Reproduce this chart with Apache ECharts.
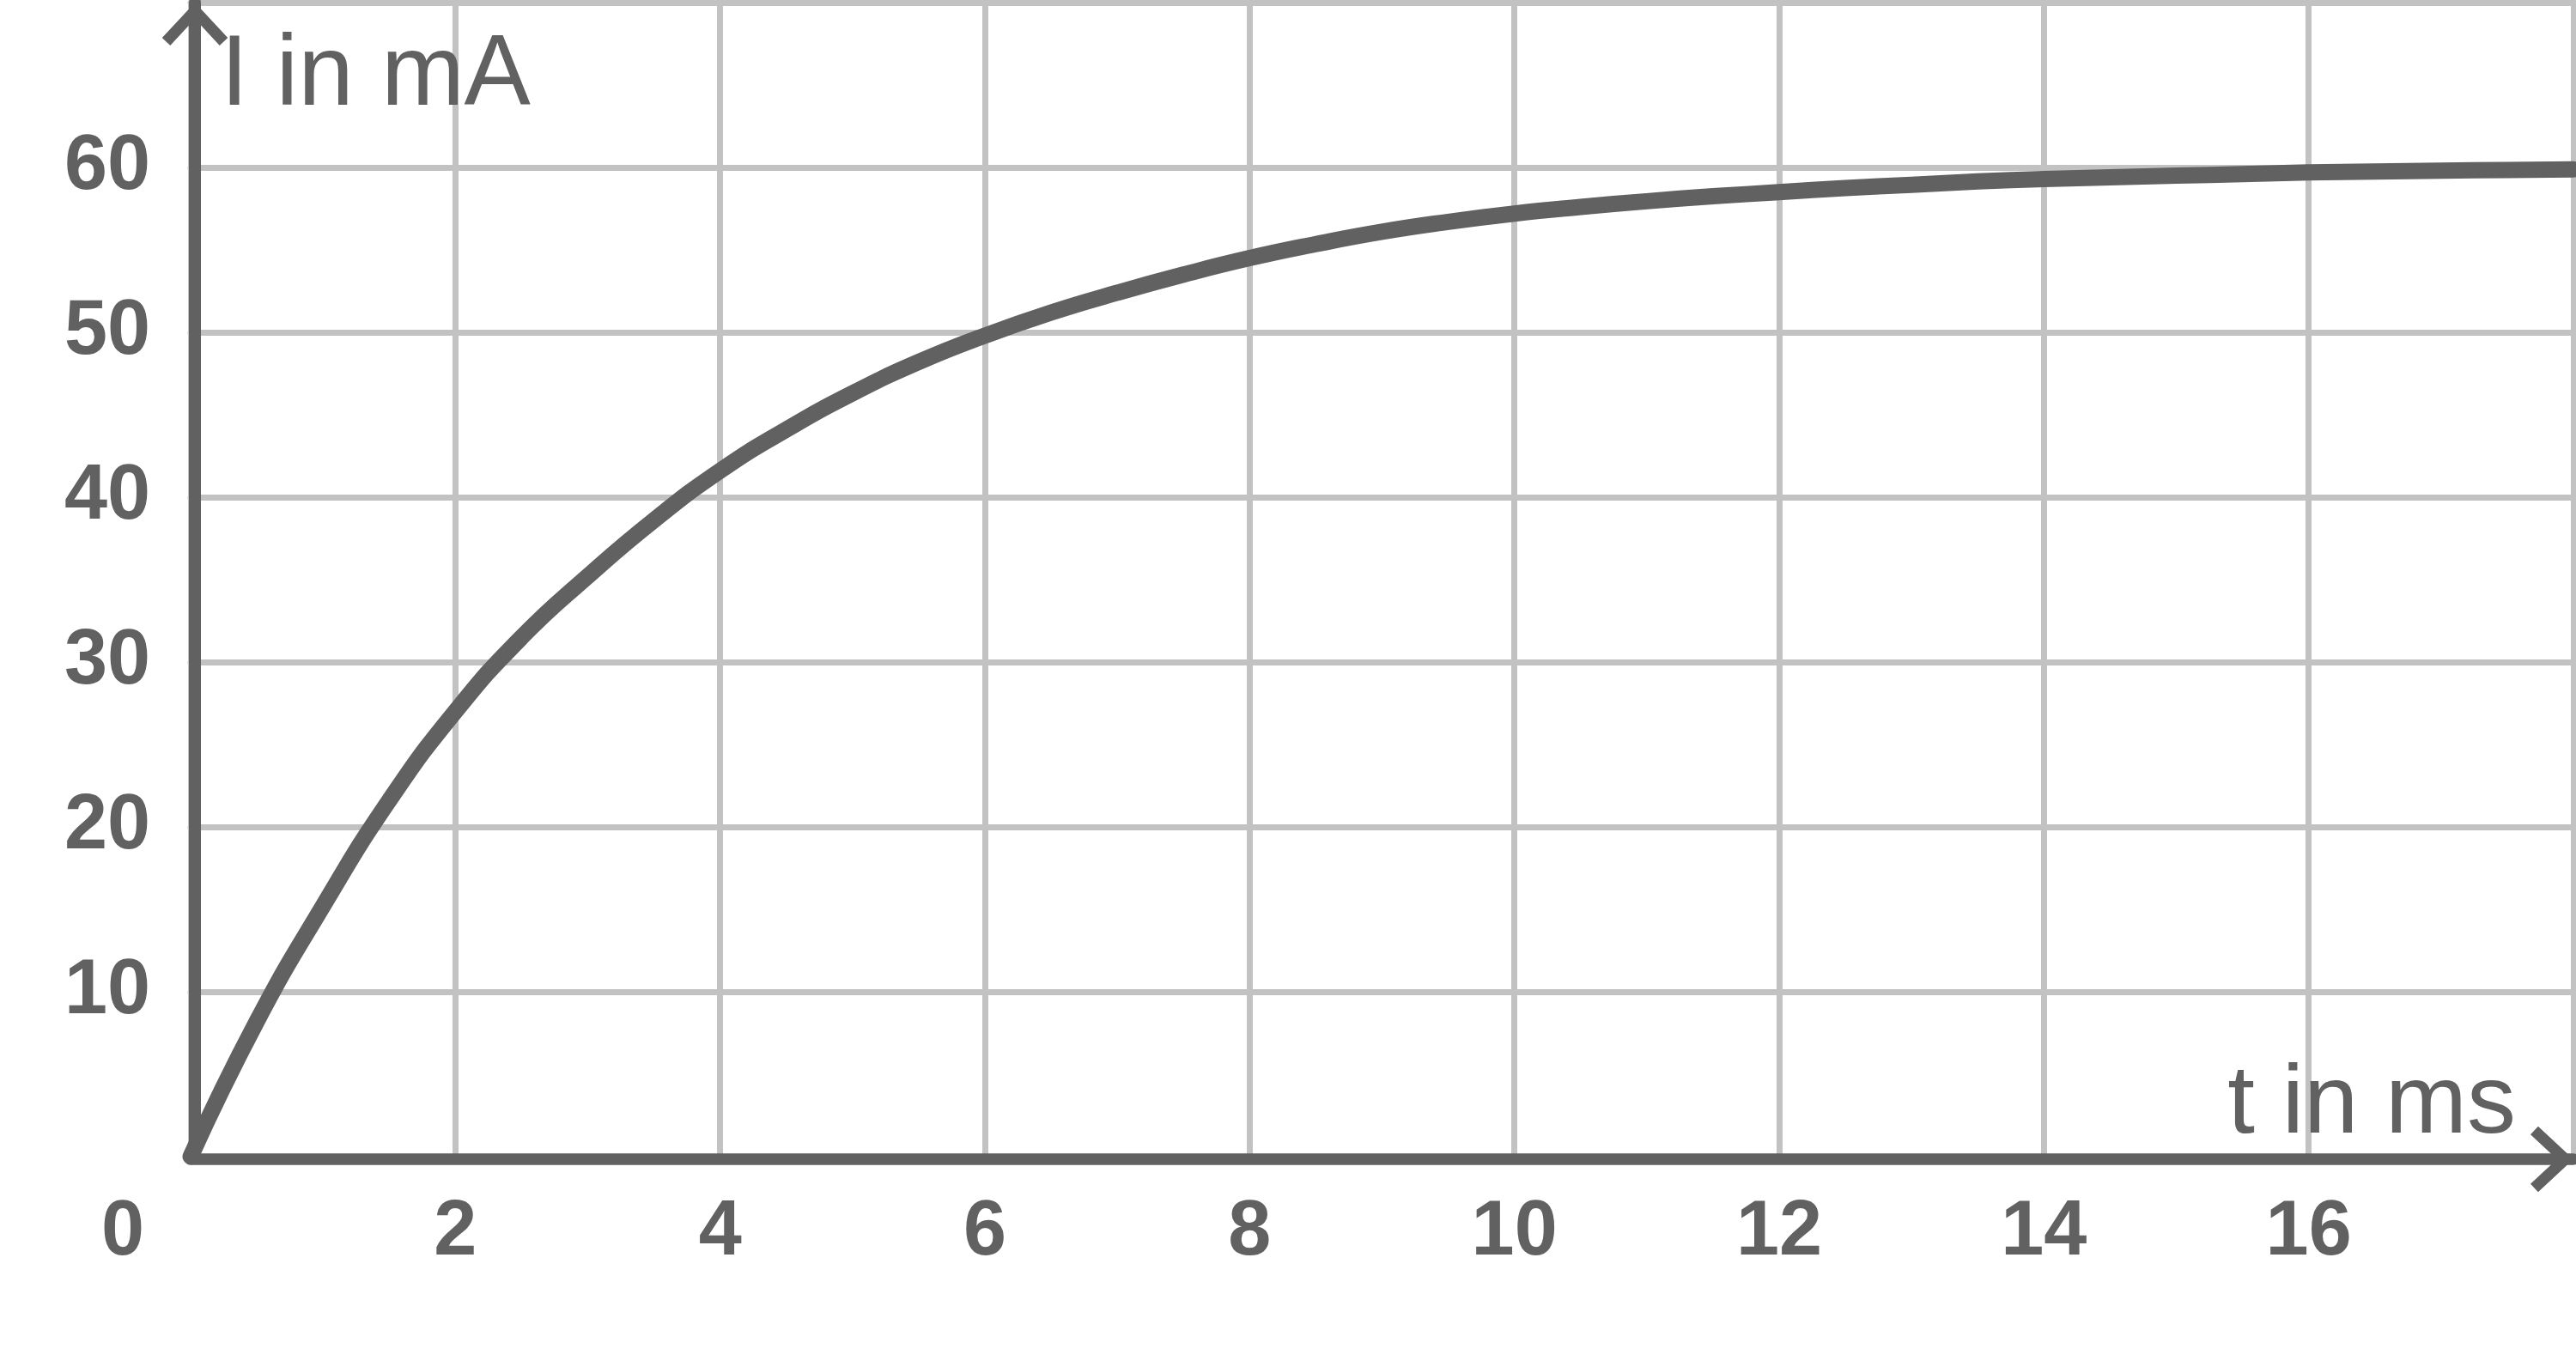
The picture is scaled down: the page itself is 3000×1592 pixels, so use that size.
<!DOCTYPE html>
<html>
<head>
<meta charset="utf-8">
<script src="https://cdn.jsdelivr.net/npm/echarts@6/dist/echarts.min.js"></script>
<style>
html,body{margin:0;padding:0;background:#ffffff;}
#chart{width:3000px;height:1592px;}
</style>
</head>
<body>
<div id="chart"></div>
<script>
// ---- data ----
const timeMs = [0, 0.5, 1, 1.5, 2, 2.5, 3, 3.5, 4, 4.5, 5, 5.5, 6, 6.5, 7, 7.5, 8, 8.5, 9, 9.5, 10, 10.5, 11, 11.5, 12, 12.5, 13, 13.5, 14, 14.5, 15, 15.5, 16, 16.5, 17, 17.5, 18];
const currentMA = [0, 8.2, 15.2, 21.6, 27.0, 31.5, 35.2, 38.6, 41.6, 44.1, 46.3, 48.2, 49.8, 51.2, 52.4, 53.5, 54.5, 55.35, 56.1, 56.7, 57.2, 57.6, 57.95, 58.25, 58.5, 58.75, 58.95, 59.15, 59.3, 59.4, 59.5, 59.6, 59.7, 59.75, 59.8, 59.85, 59.88];
const xTickValues = [0, 2, 4, 6, 8, 10, 12, 14, 16, 18];
const yTickValues = [0, 10, 20, 30, 40, 50, 60, 70];
const xAxisName = 't in ms';
const yAxisName = 'I in mA';

// ---- styles ----
const INK = '#616161';
const GRID = '#c2c2c2';
const FONT = '"Liberation Sans", Arial, Helvetica, sans-serif';
const ARROW = 'path://M38.3,0L76.5,41.1L67,50L38.3,19.1L9.5,50L0,41.1Z';

const seriesData = timeMs.map((t, i) => [t, currentMA[i]]);

const chart = echarts.init(document.getElementById('chart'), null, {renderer: 'canvas'});
chart.setOption({
  animation: false,
  backgroundColor: '#ffffff',
  grid: {left: 222, right: 3, top: 3, bottom: 245, containLabel: false, outerBoundsMode: 'none'},
  xAxis: {
    type: 'value',
    min: xTickValues[0],
    max: xTickValues[xTickValues.length - 1],
    interval: xTickValues[1] - xTickValues[0],
    offset: 3,
    axisLine: {
      onZero: false,
      lineStyle: {color: INK, width: 13.5},
      symbol: ['none', ARROW],
      symbolSize: [76.5, 50],
      symbolOffset: [0, -25]
    },
    axisTick: {show: false},
    splitLine: {show: true, lineStyle: {color: GRID, width: 7, cap: 'round'}},
    axisLabel: {
      margin: 41,
      color: INK,
      fontFamily: FONT,
      fontWeight: 'bold',
      fontSize: 90,
      showMaxLabel: false,
      formatter: function (v) { return v === 0 ? '{o|0}' : String(v); },
      rich: {o: {padding: [0, 158, 0, 0], color: INK, fontFamily: FONT, fontWeight: 'bold', fontSize: 90}}
    },
    name: xAxisName,
    nameLocation: 'end',
    nameGap: -67,
    nameTextStyle: {color: INK, fontFamily: FONT, fontSize: 114, align: 'right', verticalAlign: 'bottom', padding: [0, 0, 5, 0]}
  },
  yAxis: {
    type: 'value',
    min: yTickValues[0],
    max: yTickValues[yTickValues.length - 1],
    interval: yTickValues[1] - yTickValues[0],
    offset: -5,
    axisLine: {
      onZero: false,
      lineStyle: {color: INK, width: 14},
      symbol: ['none', ARROW],
      symbolSize: [76.5, 50],
      symbolOffset: [0, -25]
    },
    axisTick: {show: false},
    splitLine: {show: true, lineStyle: {color: GRID, width: 7, cap: 'round'}},
    axisLabel: {
      margin: 52,
      color: INK,
      fontFamily: FONT,
      fontWeight: 'bold',
      fontSize: 90,
      padding: [12, 0, 0, 0],
      showMinLabel: false,
      showMaxLabel: false
    },
    name: yAxisName,
    nameLocation: 'end',
    nameGap: -29,
    nameTextStyle: {color: INK, fontFamily: FONT, fontSize: 116, align: 'left', verticalAlign: 'top', padding: [0, 0, 0, 30]}
  },
  series: [{
    type: 'line',
    data: seriesData,
    showSymbol: false,
    smooth: true,
    lineStyle: {color: INK, width: 19, cap: 'round', join: 'round'},
    z: 3
  }]
});
</script>
</body>
</html>
